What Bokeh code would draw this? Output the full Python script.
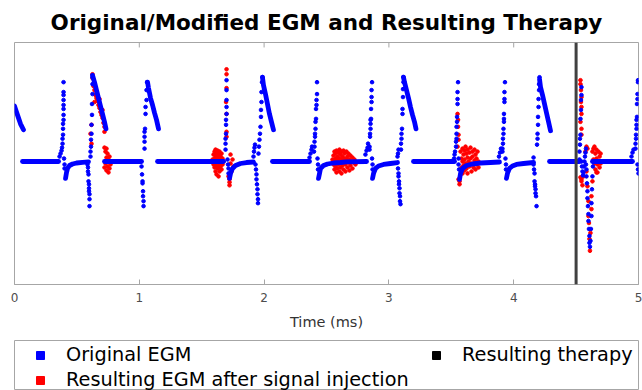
from bokeh.plotting import figure
from bokeh.models import Range1d, FixedTicker, Span, Legend, LegendItem
from bokeh.layouts import column
from bokeh.embed import file_html
from bokeh.resources import INLINE

# ---------------- data ----------------
title_text = "Original/Modified EGM and Resulting Therapy"
x_label = "Time (ms)"
x_ticks = [0, 1, 2, 3, 4, 5]
series_names = ["Original EGM", "Resulting EGM after signal injection", "Resulting therapy"]
therapy_t = [4.5]

# Original EGM: slowly varying stretches (baseline, recoveries, decays)
orig_trace_t = [
    [0.000, 0.016, 0.032, 0.048, 0.072],
    [0.064, 0.353],
    [0.409, 0.417, 0.425, 0.441, 0.465, 0.497, 0.545, 0.593],
    [0.625, 0.641, 0.657, 0.673, 0.689, 0.705, 0.721, 0.733],
    [0.721, 1.018],
    [1.066, 1.074, 1.090, 1.106, 1.122, 1.138, 1.154],
    [1.146, 1.675],
    [1.723, 1.731, 1.747, 1.771, 1.811, 1.859, 1.915],
    [1.987, 1.995, 2.011, 2.027, 2.043, 2.059, 2.075],
    [2.067, 2.364],
    [2.436, 2.444, 2.452, 2.476, 2.508, 2.556, 2.612, 2.660, 2.821],
    [2.869, 2.877, 2.893, 2.917, 2.957, 3.013, 3.069],
    [3.117, 3.125, 3.141, 3.157, 3.173, 3.189, 3.205, 3.217],
    [3.197, 3.526],
    [3.566, 3.574, 3.590, 3.622, 3.670, 3.734, 3.814, 3.886],
    [3.942, 3.950, 3.966, 3.990, 4.022, 4.079, 4.159],
    [4.207, 4.215, 4.231, 4.247, 4.263, 4.279, 4.295],
    [4.287, 4.527],
    [4.631, 4.952],
]
orig_trace_v = [
    [5.6, 5.0, 4.4, 3.8, 3.2],
    [0.0, 0.0],
    [-1.7, -1.1, -0.7, -0.4, -0.25, -0.15, -0.08, -0.03],
    [8.7, 8.0, 7.2, 6.4, 5.6, 4.8, 4.0, 3.3],
    [0.0, 0.0],
    [8.0, 7.4, 6.4, 5.7, 4.9, 4.2, 3.3],
    [0.0, 0.0],
    [-1.7, -1.2, -0.7, -0.4, -0.2, -0.1, -0.05],
    [8.5, 7.7, 6.8, 5.8, 4.8, 4.0, 3.2],
    [0.0, 0.0],
    [-1.7, -1.2, -0.7, -0.4, -0.25, -0.15, -0.1, -0.03, 0.0],
    [-1.7, -1.2, -0.7, -0.45, -0.3, -0.2, -0.1],
    [8.5, 8.0, 7.2, 6.4, 5.5, 4.7, 4.0, 3.3],
    [0.0, 0.0],
    [-1.8, -1.2, -0.7, -0.4, -0.25, -0.15, -0.1, -0.05],
    [-1.7, -1.2, -0.7, -0.45, -0.3, -0.2, -0.1],
    [8.3, 7.5, 6.7, 5.8, 4.9, 4.0, 3.1],
    [0.0, 0.0],
    [0.0, 0.0],
]

# Original EGM: fast deflections (individual samples), one list per complex
orig_dot_t = [
    [0.361, 0.369, 0.377, 0.381, 0.385, 0.385, 0.389, 0.389, 0.389, 0.393, 0.393, 0.393, 0.393, 0.393, 0.393, 0.393, 0.393, 0.397, 0.401, 0.401],
    [0.585, 0.589, 0.589, 0.593, 0.593, 0.597, 0.597, 0.597, 0.601, 0.601, 0.601, 0.609, 0.609, 0.613, 0.613, 0.617, 0.617, 0.621, 0.621, 0.625, 0.625, 0.625],
    [1.018, 1.022, 1.026, 1.026, 1.030, 1.030, 1.034, 1.034, 1.042, 1.042, 1.042, 1.042, 1.046, 1.050, 1.050, 1.058, 1.058, 1.062],
    [1.691, 1.691, 1.691, 1.695, 1.695, 1.695, 1.699, 1.699, 1.699, 1.699, 1.699, 1.707, 1.711, 1.715, 1.715],
    [1.915, 1.919, 1.923, 1.927, 1.931, 1.935, 1.939, 1.939, 1.943, 1.947, 1.947, 1.951, 1.951, 1.955, 1.959, 1.963, 1.967, 1.971, 1.975, 1.975, 1.979, 1.979, 1.983, 1.987],
    [2.364, 2.372, 2.380, 2.384, 2.400, 2.404, 2.404, 2.408, 2.408, 2.412, 2.412, 2.416, 2.416, 2.420, 2.420, 2.424, 2.424, 2.428, 2.432, 2.432],
    [2.812, 2.821, 2.829, 2.833, 2.845, 2.845, 2.849, 2.849, 2.853, 2.853, 2.853, 2.857, 2.857, 2.861, 2.861, 2.861, 2.865, 2.865, 2.869, 2.869],
    [3.069, 3.073, 3.077, 3.073, 3.077, 3.077, 3.081, 3.081, 3.085, 3.085, 3.089, 3.089, 3.093, 3.097, 3.097, 3.101, 3.101, 3.105, 3.109, 3.109, 3.113, 3.113, 3.117, 3.117],
    [3.522, 3.526, 3.530, 3.538, 3.538, 3.542, 3.542, 3.542, 3.546, 3.546, 3.550, 3.550, 3.550, 3.554, 3.558, 3.558, 3.562],
    [3.882, 3.890, 3.898, 3.910, 3.910, 3.914, 3.914, 3.918, 3.918, 3.922, 3.922, 3.922, 3.926, 3.926, 3.926, 3.930, 3.934, 3.938, 3.938],
    [4.159, 4.159, 4.163, 4.167, 4.167, 4.171, 4.171, 4.175, 4.175, 4.179, 4.183, 4.187, 4.191, 4.191, 4.195, 4.195, 4.199, 4.199, 4.203, 4.203, 4.207],
    [4.527, 4.527, 4.531, 4.531, 4.535, 4.535, 4.539, 4.539, 4.543, 4.543,
     4.543, 4.547, 4.551, 4.555, 4.559, 4.563, 4.567, 4.571, 4.575, 4.579,
     4.579, 4.583, 4.583, 4.587, 4.591, 4.591, 4.595, 4.599, 4.599, 4.603, 4.607, 4.607, 4.611,
     4.615, 4.619, 4.623, 4.623, 4.627, 4.631, 4.635],
    [4.944, 4.952, 4.960, 4.976, 4.976, 4.980, 4.980, 4.984, 4.984, 4.984, 4.988, 4.988, 4.992, 4.992, 4.996, 4.996, 4.992, 4.996, 5.000],
]
orig_dot_v = [
    [0.5, 0.8, 1.1, 1.4, 1.8, 2.3, 2.7, 3.3, 3.8, 4.2, 4.7, 5.3, 5.7, 6.2, 6.7, 7.0, 8.0, 0.3, -0.3, -0.7],
    [-0.3, -0.6, -1.0, -1.3, -2.0, -2.3, -2.7, -3.0, -3.3, -3.8, -4.5, 0.5, 1.0, 1.5, 2.2, 2.8, 3.7, 4.7, 5.8, 6.8, 7.8, 8.5],
    [-0.5, -1.3, -2.0, -2.2, -3.0, -3.5, -4.0, -4.5, 1.3, 2.0, 2.5, 3.0, 3.3, 4.8, 5.5, 6.2, 7.2, 8.0],
    [1.2, 1.8, 2.3, 2.8, 3.7, 4.2, 4.8, 5.5, 6.2, 7.2, 8.2, 0.2, -0.3, -0.7, -1.2],
    [0.5, 1.0, 1.4, 1.7, -0.3, -0.8, -1.3, -1.8, -2.3, -2.8, -3.3, -3.8, -4.2, 0.8, 1.5, 2.2, 2.8, 3.5, 4.5, 5.2, 6.0, 7.0, 8.0, 8.5],
    [0.4, 0.8, 1.2, 1.5, 1.0, 1.5, 2.0, 2.5, 2.8, 3.3, 4.0, 4.3, 5.3, 5.7, 6.2, 6.8, 8.0, 0.3, -0.3, -0.8],
    [0.7, 1.1, 1.4, 1.8, 1.2, 1.5, 2.5, 2.8, 3.3, 3.8, 4.2, 4.3, 5.3, 6.0, 6.5, 7.2, 8.0, 0.3, -0.3, -0.8],
    [0.5, 0.8, 1.2, -0.7, -1.2, -1.5, -2.0, -2.3, -2.7, -3.2, -3.5, -4.0, -4.3, 1.2, 1.8, 2.3, 2.8, 3.3, 4.8, 5.3, 6.5, 7.3, 8.0, 8.5],
    [0.3, 0.7, 1.0, 1.5, 2.0, 2.3, 2.8, 3.5, 4.0, 4.5, 5.8, 6.3, 7.0, 8.0, 0.3, -0.3, -0.8],
    [0.5, 0.9, 1.3, 1.0, 1.3, 1.8, 2.3, 2.8, 3.3, 4.0, 4.3, 4.8, 6.0, 6.3, 7.0, 8.0, 0.3, -0.3, -0.8],
    [0.4, -0.3, -0.8, -1.2, -2.0, -2.3, -2.5, -2.8, -3.2, -3.5, -4.5, 1.7, 2.3, 2.8, 3.7, 4.5, 5.5, 6.3, 7.2, 7.8, 8.5],
    [0.2, 1.0, 1.7, 2.3, 2.7, 4.3, 5.2, 6.2, 6.7, 7.5,
     0.0, -0.5, -1.0, -1.4, -1.1, -0.5, 0.0, 0.5, 0.9, 1.3,
     -0.3, -0.8, -1.5, -2.2, -3.0, -3.7, -4.5, -5.3, -6.0, -6.8, -7.5, -8.2, -8.6,
     -8.0, -6.8, -5.5, -4.2, -2.8, -1.5, -0.5],
    [0.5, 0.9, 1.2, 1.3, 1.8, 2.3, 2.7, 3.3, 3.7, 4.2, 4.5, 5.8, 6.3, 6.8, 8.0, 8.2, -0.3, -0.8, -1.2],
]

# Resulting EGM after signal injection (samples that differ from the original)
mod_dot_t = [
    [0.625, 0.625, 0.633, 0.641, 0.649, 0.657, 0.665, 0.673, 0.681, 0.689, 0.697, 0.705, 0.713, 0.721, 0.721,
     0.617, 0.617, 0.609, 0.721, 0.729, 0.737, 0.745, 0.737, 0.753, 0.729, 0.745, 0.761, 0.737, 0.753, 0.769,
     0.721, 0.761, 0.657, 0.641, 0.681, 0.705],
    [1.587, 1.595, 1.595, 1.603, 1.603, 1.603, 1.611, 1.611, 1.611, 1.611, 1.619, 1.619, 1.619, 1.619, 1.627, 1.627,
     1.627, 1.635, 1.635, 1.635, 1.635, 1.643, 1.643, 1.643, 1.643, 1.651, 1.651, 1.659, 1.659, 1.659, 1.667, 1.667, 1.675],
    [1.699, 1.699, 1.699, 1.695, 1.699, 1.699, 1.699, 1.731, 1.731, 1.723, 1.723, 1.723, 1.715, 1.739, 1.747, 1.755],
    [2.548, 2.556, 2.556, 2.564, 2.564, 2.564, 2.572, 2.572, 2.572, 2.580, 2.580, 2.580, 2.588, 2.588, 2.588, 2.596, 2.596,
     2.604, 2.604, 2.604, 2.612, 2.612, 2.612, 2.620, 2.620, 2.620, 2.628, 2.628, 2.636, 2.636, 2.636, 2.644, 2.644,
     2.652, 2.652, 2.660, 2.660, 2.668, 2.668, 2.676, 2.676, 2.684, 2.684, 2.692, 2.692, 2.700, 2.708, 2.708, 2.716, 2.724, 2.732],
    [3.550, 3.554, 3.554, 3.558, 3.558, 3.550, 3.566, 3.566, 3.558,
     3.574, 3.582, 3.582, 3.590, 3.590, 3.590, 3.598, 3.598, 3.606, 3.606, 3.606, 3.614, 3.614, 3.622, 3.622, 3.630, 3.630,
     3.630, 3.638, 3.646, 3.646, 3.654, 3.654, 3.662, 3.662, 3.670, 3.670, 3.678, 3.686, 3.686, 3.694, 3.694, 3.702, 3.702,
     3.710, 3.718, 3.718],
    [4.535, 4.535, 4.539, 4.543, 4.539, 4.543, 4.543, 4.535, 4.543, 4.543,
     4.535, 4.543, 4.551, 4.543, 4.559, 4.583, 4.591, 4.575,
     4.583, 4.591, 4.599, 4.599, 4.603, 4.607, 4.611, 4.615, 4.623, 4.623, 4.631,
     4.631, 4.639, 4.639, 4.647, 4.647, 4.655, 4.655, 4.663, 4.663, 4.671, 4.671, 4.679, 4.679, 4.688, 4.688, 4.696, 4.696, 4.663],
]
mod_dot_v = [
    [8.8, 8.4, 7.6, 7.2, 6.7, 6.4, 6.1, 5.7, 5.4, 5.0, 4.7, 4.4, 3.9, 3.5, 3.0,
     3.7, 1.8, 2.8, 1.4, 1.0, 1.3, 0.8, 0.4, 0.2, -0.2, -0.5, -0.7, -0.9, -1.1, -0.3,
     -0.6, 0.5, 6.9, 6.0, 6.3, 5.2],
    [0.2, 0.7, -0.3, 1.0, 0.3, -0.6, 1.2, 0.6, -0.1, -1.0, 0.8, 0.2, -0.4, -1.3, 1.1, 0.4,
     -0.7, 0.7, 0.0, -0.6, -1.5, 1.0, 0.3, -0.3, -1.0, 0.5, -0.5, 0.8, 0.1, -0.8, 0.3, -0.3, 0.0],
    [9.3, 8.8, 7.4, 6.0, 4.8, 3.0, 2.5, 0.7, -0.2, -1.8, -2.1, -2.4, -1.5, -1.0, 0.2, -0.5],
    [0.2, 0.6, -0.3, 1.0, 0.0, -0.8, 0.8, 0.3, -0.5, 1.1, -0.2, -1.1, 0.5, 0.1, -0.7, 0.9, -0.3,
     1.2, 0.3, -1.0, 0.7, -0.1, -0.6, 1.0, 0.2, -1.2, 0.5, -0.4, 1.1, 0.0, -0.8, 0.8, 0.3,
     -0.3, -1.0, 1.0, 0.2, 0.5, -0.6, 0.8, -0.1, 0.2, -0.9, 0.6, -0.4, 0.0, 0.4, -0.7, -0.1, 0.2, -0.3],
    [4.8, 4.2, 3.5, 2.7, 2.2, 1.5, -2.0, -2.3, -1.8,
     1.0, 0.3, -0.6, 1.3, 0.0, -1.2, 0.7, -0.4, 1.1, 0.2, -0.9, 1.5, -0.2, 0.8, -0.7, 1.2, 0.4,
     -1.2, 0.0, 0.9, -0.5, 1.4, 0.3, -0.2, -1.0, 1.0, 0.5, -0.6, 1.2, 0.1, 0.7, -0.8, 0.3, -0.3,
     1.0, 0.0, -0.6],
    [8.2, 7.8, 7.2, 6.5, 6.0, 5.5, 4.8, 4.0, 3.3, 2.7,
     -1.6, -2.0, -2.4, -1.8, -1.5, 1.5, 1.3, 1.0,
     -1.0, -2.5, -4.0, -5.5, -6.2, -7.8, -9.0, -7.2, -4.8, -3.5, -2.0,
     1.0, 1.3, 0.2, 1.5, -0.2, 0.8, -0.8, 1.2, 0.3, -0.3, -1.1, 1.0, 0.0, 0.5, -0.6, 0.8, -0.2, -1.1],
]

# ---------------- styling ----------------
BLUE = "#0000ff"
RED = "#ff0000"
FRAME = "#a6a6a6"
FONT = "DejaVu Sans"
Y_MIN, Y_MAX = -12.4, 12.0
TICK_LEN = 0.5


def flat(groups):
    return [x for g in groups for x in g]


p = figure(width=642, height=340, x_range=Range1d(0, 5), y_range=Range1d(Y_MIN, Y_MAX),
           toolbar_location=None, output_backend="svg", y_axis_location=None,
           min_border_left=14, min_border_right=4, min_border_top=40, min_border_bottom=56,
           title=title_text)
p.title.text_font = FONT
p.title.text_font_size = "21.5px"
p.title.text_font_style = "bold"
p.title.align = "center"
p.title.text_color = "#000000"
p.title.standoff = 15
p.xgrid.visible = False
p.ygrid.visible = False
p.outline_line_color = FRAME
p.outline_line_width = 1

xa = p.xaxis[0]
xa.ticker = FixedTicker(ticks=x_ticks)
xa.major_tick_in = 5
xa.major_tick_out = 0
xa.minor_tick_line_color = None
xa.major_tick_line_color = FRAME
xa.axis_line_color = FRAME
xa.major_label_text_font = FONT
xa.major_label_text_font_size = "12px"
xa.major_label_text_color = "#4d4d4d"
xa.major_label_standoff = 8
xa.axis_label = x_label
xa.axis_label_text_font = FONT
xa.axis_label_text_font_size = "14.5px"
xa.axis_label_text_font_style = "normal"
xa.axis_label_text_color = "#333333"
xa.axis_label_standoff = 9

# inward tick marks along the top edge of the box
p.segment(x0=x_ticks, x1=x_ticks, y0=[Y_MAX] * len(x_ticks), y1=[Y_MAX - TICK_LEN] * len(x_ticks),
          line_color=FRAME, line_width=1)

p.scatter(flat(mod_dot_t), flat(mod_dot_v), marker="circle", size=3.6, color=RED)
p.multi_line(orig_trace_t, orig_trace_v, line_color=BLUE, line_width=4.8, line_cap="round", line_join="round")
p.scatter(flat(orig_dot_t), flat(orig_dot_v), marker="circle", size=3.6, color=BLUE)
p.add_layout(Span(location=therapy_t[0], dimension="height", line_color="#404040", line_width=3))

# ---------------- legend panel ----------------
lg = figure(width=642, height=50, x_range=Range1d(0, 1), y_range=Range1d(0, 1),
            toolbar_location=None, output_backend="svg",
            x_axis_location=None, y_axis_location=None,
            min_border_left=14, min_border_right=4, min_border_top=0, min_border_bottom=0)
lg.xgrid.visible = False
lg.ygrid.visible = False
lg.outline_line_color = FRAME
# legend swatches (their single sample lies outside the visible range)
rb = lg.scatter(x=[5], y=[5], marker="square", size=6.5, color=BLUE)
rr = lg.scatter(x=[5], y=[5], marker="square", size=6.5, color=RED)
rk = lg.scatter(x=[5], y=[5], marker="square", size=6.5, color="#000000")

common = dict(border_line_color=None, background_fill_alpha=0, padding=0, margin=0, spacing=2,
              glyph_width=20, glyph_height=20, label_height=20, label_standoff=16,
              label_text_font=FONT, label_text_font_size="19.3px", label_text_color="#000000")
legA = Legend(items=[LegendItem(label=series_names[0], renderers=[rb], index=0),
                     LegendItem(label=series_names[1], renderers=[rr], index=0)],
              location=(16, -1), **common)
legB = Legend(items=[LegendItem(label=series_names[2], renderers=[rk], index=0)],
              location=(412, 24), **common)
lg.add_layout(legA)
lg.add_layout(legB)

layout = column(p, lg, spacing=0)
open("out.html", "w").write(file_html(layout, INLINE))
